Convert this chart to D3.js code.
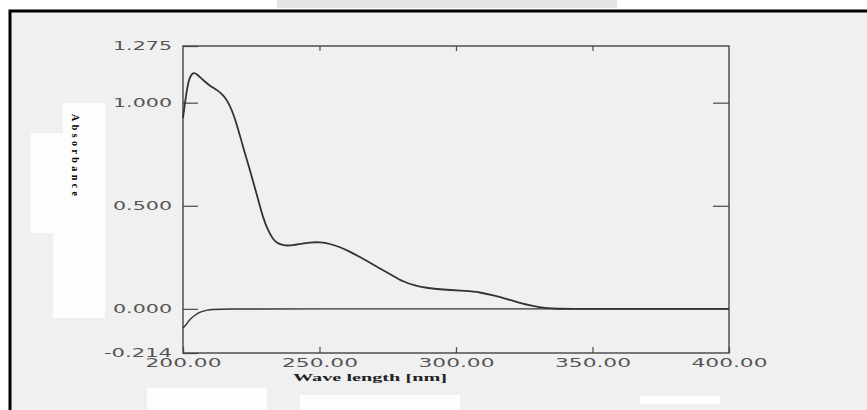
<!DOCTYPE html>
<html>
<head>
<meta charset="utf-8">
<script src="https://cdn.jsdelivr.net/npm/d3@7/dist/d3.min.js"></script>
<style>
  body { margin: 0; background: #fff; }
  svg { display: block; }
</style>
</head>
<body>
<svg id="chart" width="867" height="410"></svg>
<script>
// sample spectrum
var sampleWl = [200, 201.1, 202.2, 203.7, 205.1, 207.3, 209.9, 212.5, 214.7, 216.1, 217.9, 219.8,
    222.0, 224.5, 227.1, 229.3, 231.1, 233.0, 234.8, 237.4, 240.3, 242.9, 246.5, 250.2, 253.8,
    257.5, 261.2, 264.8, 268.5, 272.2, 276.6, 280.6, 285.0, 289.4, 296.7, 303.3, 308.8, 313.6,
    318.7, 323.4, 328.2, 332.6, 337.0, 345, 360, 380, 400];
var sampleAbs = [0.926, 1.037, 1.120, 1.149, 1.139, 1.110, 1.081, 1.062, 1.037, 1.013, 0.965, 0.892,
    0.785, 0.674, 0.552, 0.441, 0.383, 0.336, 0.316, 0.306, 0.308, 0.315, 0.323, 0.324, 0.316,
    0.300, 0.277, 0.252, 0.223, 0.196, 0.163, 0.132, 0.112, 0.101, 0.092, 0.087, 0.081, 0.066,
    0.048, 0.029, 0.014, 0.004, 0.000, 0.000, 0.000, 0.000, 0.000];

// baseline trace
var baseWl = [200, 201.1, 202.6, 204.4, 206.2, 208.8, 211.7, 250, 300, 350, 400];
var baseAbs = [-0.093, -0.078, -0.049, -0.030, -0.015, -0.005, 0.000, 0.000, 0.000, 0.000, 0.000];

var xTicks = [200, 250, 300, 350, 400];
var yTicks = [-0.214, 0, 0.5, 1.0, 1.275];
var yLabel = "Absorbance";
var xLabel = "Wave length [nm]";

var svg = d3.select("#chart");

// scanned page look
svg.append("rect").attr("x", 0).attr("y", 0).attr("width", 867).attr("height", 410).attr("fill", "#fff");
svg.append("rect").attr("x", 277).attr("y", 0).attr("width", 340).attr("height", 8).attr("fill", "#e6e6e6");
svg.append("rect").attr("x", 10).attr("y", 11).attr("width", 857).attr("height", 399).attr("fill", "#f0f0f0");

var patches = [[63, 103, 42, 30], [31, 133, 74, 100], [53, 232, 52, 86], [147, 388, 120, 22],
    [300, 395, 160, 15], [640, 396, 80, 8]];
svg.append("g").selectAll("rect")
    .data(patches)
    .enter().append("rect")
    .attr("x", function (d) { return d[0]; })
    .attr("y", function (d) { return d[1]; })
    .attr("width", function (d) { return d[2]; })
    .attr("height", function (d) { return d[3]; })
    .attr("fill", "#fdfdfd");

// outer frame (left + top only visible)
svg.append("path")
    .attr("d", "M10,410V11H867")
    .attr("fill", "none")
    .attr("stroke", "#000")
    .attr("stroke-width", 3);

var margin = { top: 46, left: 183 },
    width = 546,
    height = 307,
    g = svg.append("g").attr("transform", "translate(" + margin.left + "," + margin.top + ")");

var x = d3.scaleLinear().domain([200, 400]).range([0, width]);
var y = d3.scaleLinear().domain([-0.214, 1.275]).range([height, 0]);

var fmt3 = d3.format(".3f");

// left axis, inner ticks
var yAxis = g.append("g")
    .call(d3.axisLeft(y).tickValues(yTicks).tickSizeInner(-15).tickSizeOuter(0).tickPadding(11)
        .tickFormat(function (d) { return fmt3(d).replace("\u2212", "-"); }));
// right axis ticks
var yAxisR = g.append("g")
    .attr("transform", "translate(" + width + ",0)")
    .call(d3.axisRight(y).tickValues([0.5, 1.0]).tickSizeInner(-16).tickSizeOuter(0).tickFormat(""));
// bottom axis
var xAxis = g.append("g")
    .attr("transform", "translate(0," + height + ")")
    .call(d3.axisBottom(x).tickValues(xTicks).tickSizeInner(-6).tickSizeOuter(0).tickPadding(5)
        .tickFormat(d3.format(".2f")));
// top axis
var xAxisT = g.append("g")
    .call(d3.axisTop(x).tickValues([250, 300, 350]).tickSizeInner(-5).tickSizeOuter(0).tickFormat(""));

[yAxis, yAxisR, xAxis, xAxisT].forEach(function (a) {
    a.select(".domain").remove();
    a.selectAll("line").attr("stroke", "#555").attr("stroke-width", 1.3);
});

g.selectAll(".tick text")
    .attr("font-family", "'DejaVu Sans', sans-serif")
    .attr("font-size", 12)
    .attr("fill", "#555");
yAxis.selectAll(".tick text")
    .attr("textLength", function (d) { return d < 0 ? 68 : 59; })
    .attr("lengthAdjust", "spacingAndGlyphs");
xAxis.selectAll(".tick text")
    .attr("textLength", 76)
    .attr("lengthAdjust", "spacingAndGlyphs");

// plot frame
g.append("rect")
    .attr("width", width)
    .attr("height", height)
    .attr("fill", "none")
    .attr("stroke", "#444")
    .attr("stroke-width", 1.4);

var line = d3.line()
    .x(function (d) { return x(d[0]); })
    .y(function (d) { return y(d[1]); })
    .curve(d3.curveBasis);

g.append("path")
    .datum(d3.zip(baseWl, baseAbs))
    .attr("d", line)
    .attr("fill", "none")
    .attr("stroke", "#333")
    .attr("stroke-width", 1.4);

g.append("path")
    .datum(d3.zip(sampleWl, sampleAbs))
    .attr("d", line)
    .attr("fill", "none")
    .attr("stroke", "#333")
    .attr("stroke-width", 1.8);

// axis titles
svg.append("text")
    .attr("x", 293)
    .attr("y", 381)
    .attr("font-family", "'Liberation Serif', serif")
    .attr("font-weight", "bold")
    .attr("font-size", 11)
    .attr("fill", "#222")
    .attr("textLength", 154)
    .attr("lengthAdjust", "spacingAndGlyphs")
    .text(xLabel);

svg.append("text")
    .attr("transform", "translate(72,114) rotate(90)")
    .attr("font-family", "'Liberation Serif', serif")
    .attr("font-weight", "bold")
    .attr("font-size", 10)
    .attr("fill", "#000")
    .attr("textLength", 82)
    .attr("lengthAdjust", "spacing")
    .text(yLabel);
</script>
</body>
</html>
